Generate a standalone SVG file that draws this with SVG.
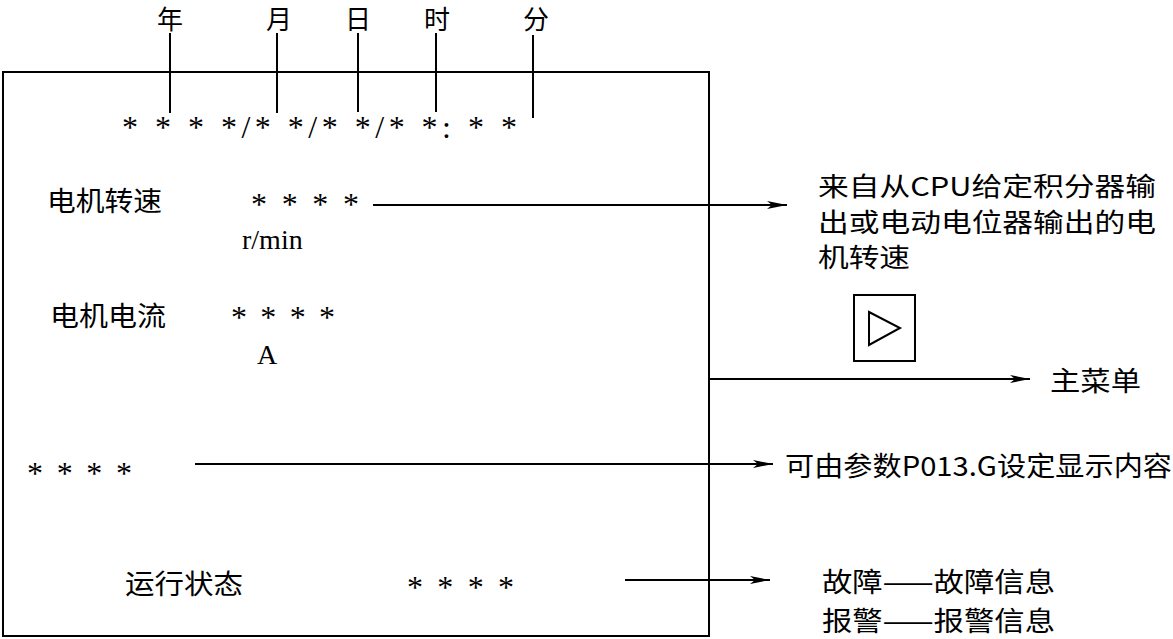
<svg xmlns="http://www.w3.org/2000/svg" width="1173" height="639" viewBox="0 0 1173 639">
<defs>
<marker id="ah" viewBox="0 0 20 8" refX="20" refY="4" markerWidth="20" markerHeight="8" markerUnits="userSpaceOnUse" orient="auto">
<path d="M0,0 L20,4 L0,8 L5,4 Z" fill="#000"/>
</marker>
<style>
.t{font-family:"Liberation Serif","Noto Sans CJK SC",serif;font-size:28px;fill:#000}
.c{font-family:"Noto Sans CJK SC","Liberation Serif",sans-serif;font-size:27px;fill:#000}
.n{font-family:"Noto Sans CJK SC","Liberation Serif",sans-serif;font-size:26px;fill:#000}
.s{font-family:"Liberation Serif",serif;font-size:32px;fill:#000}
.ln{stroke:#000;stroke-width:2;fill:none}
.ar{stroke:#000;stroke-width:2;fill:none;marker-end:url(#ah)}
</style>
</defs>
<rect width="1173" height="639" fill="#fff"/>
<g id="screen">
<rect x="3" y="72" width="706" height="564" class="ln"/>
</g>
<g id="datetime">
<text class="n" x="157" y="29">年</text>
<text class="n" x="266" y="29">月</text>
<text class="n" x="345" y="29">日</text>
<text class="n" x="424" y="29">时</text>
<text class="n" x="523" y="29">分</text>
<text class="s" x="122" y="138" textLength="395" lengthAdjust="spacing">* * * */* */* */* *: * *</text>
</g>
<g id="speed">
<text class="c" x="47" y="211" textLength="115" lengthAdjust="spacingAndGlyphs">电机转速</text>
<text class="s" x="251" y="215" textLength="108" lengthAdjust="spacing">* * * *</text>
<text class="t" x="242" y="249">r/min</text>
</g>
<g id="current">
<text class="c" x="50" y="326" textLength="116" lengthAdjust="spacingAndGlyphs">电机电流</text>
<text class="s" x="231" y="328" textLength="104" lengthAdjust="spacing">* * * *</text>
<text class="t" x="257" y="364">A</text>
</g>
<g id="custom">
<text class="s" x="27" y="484" textLength="105" lengthAdjust="spacing">* * * *</text>
</g>
<g id="status">
<text class="c" x="125" y="594" textLength="118" lengthAdjust="spacingAndGlyphs">运行状态</text>
<text class="s" x="407" y="598" textLength="107" lengthAdjust="spacing">* * * *</text>
</g>
<g id="speed-note">
<text class="n" x="818" y="196" textLength="338" lengthAdjust="spacingAndGlyphs">来自从CPU给定积分器输</text>
<text class="n" x="818" y="232" textLength="338" lengthAdjust="spacingAndGlyphs">出或电动电位器输出的电</text>
<text class="n" x="818" y="267" textLength="92" lengthAdjust="spacingAndGlyphs">机转速</text>
</g>
<g id="button">
<rect x="854" y="295" width="61" height="66" class="ln"/>
<path d="M869,312 L900,328 L869,345 Z" class="ln"/>
</g>
<g id="main-menu">
<text class="c" x="1050" y="391" textLength="91" lengthAdjust="spacingAndGlyphs">主菜单</text>
</g>
<g id="custom-note">
<text class="c" x="785" y="476" textLength="387" lengthAdjust="spacingAndGlyphs">可由参数P013.G设定显示内容</text>
</g>
<g id="status-note">
<text class="c" x="822" y="592" textLength="233" lengthAdjust="spacingAndGlyphs">故障——故障信息</text>
<text class="c" x="822" y="631" textLength="233" lengthAdjust="spacingAndGlyphs">报警——报警信息</text>
</g>
<g id="connectors">
<line x1="170" y1="33" x2="170" y2="113" class="ln"/>
<line x1="277" y1="33" x2="277" y2="113" class="ln"/>
<line x1="358" y1="33" x2="358" y2="112" class="ln"/>
<line x1="436" y1="33" x2="436" y2="112" class="ln"/>
<line x1="533" y1="35" x2="533" y2="118" class="ln"/>
<line x1="373" y1="205" x2="787" y2="205" class="ar"/>
<line x1="709" y1="379" x2="1030" y2="379" class="ar"/>
<line x1="195" y1="464" x2="773" y2="464" class="ar"/>
<line x1="625" y1="580" x2="770" y2="580" class="ar"/>
</g>
</svg>
